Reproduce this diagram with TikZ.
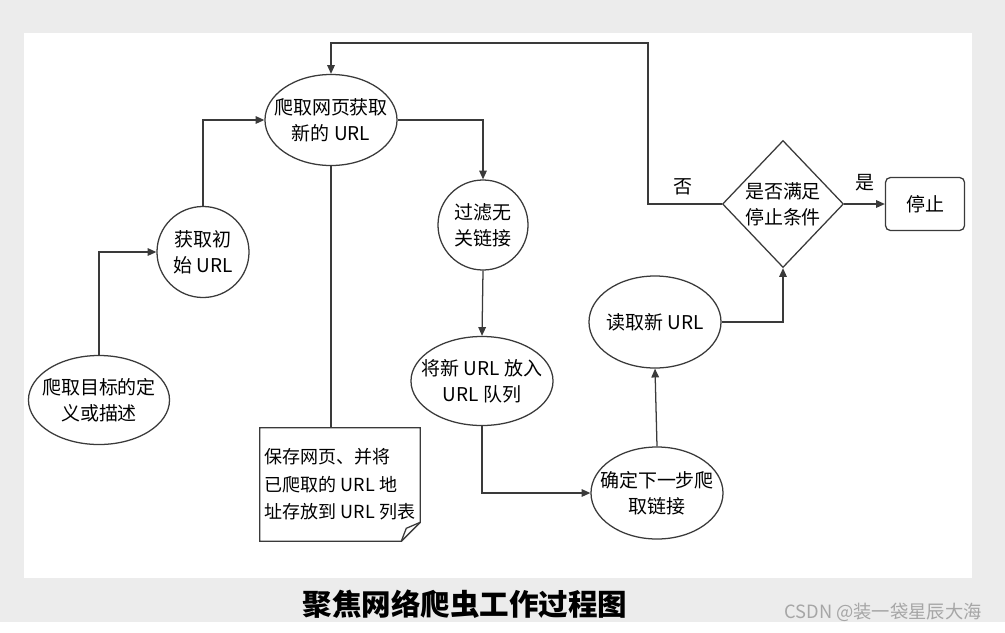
\documentclass[tikz,border=0pt]{standalone}
\usepackage{fontspec}
\setmainfont{Noto Sans CJK SC}
\usetikzlibrary{arrows.meta,calc,positioning,shapes.geometric}
\definecolor{linegray}{HTML}{3A3A3A}
\definecolor{panelgray}{HTML}{ECECEC}
\newcommand{\cntext}{\fontsize{13.5pt}{18.5pt}\selectfont}
\tikzset{
  bubble/.style={draw=linegray, ellipse, line width=0.9pt, inner sep=0pt, fill=white},
  choice/.style={draw=linegray, diamond, line width=0.9pt, inner sep=0pt, minimum width=3.025cm, minimum height=3.175cm},
  endbox/.style={draw=linegray, rounded corners=3.5pt, line width=0.9pt, minimum width=1.975cm, minimum height=1.325cm, font=\cntext},
  memo/.style={minimum width=4cm, minimum height=2.825cm, inner sep=0pt, align=left, font=\fontsize{12.8pt}{19.5pt}\selectfont},
  flow/.style={-{Triangle[length=2.2mm,width=1.9mm]}, line width=0.9pt, draw=linegray},
  link/.style={line width=0.9pt, draw=linegray},
  every label/.style={align=center, font=\cntext, inner sep=0pt}
}
\begin{document}
\begin{tikzpicture}[x=0.025cm, y=-0.025cm]
  \useasboundingbox (0,0) rectangle (1005,632);
  \fill[panelgray] (0,0) rectangle (1005,622);
  \fill[white] (24,33) rectangle (972,578);

  % process steps
  \node[bubble, minimum width=3.3cm, minimum height=2.275cm, label={center:爬取网页获取\\新的 URL}] (crawl) at (331,120) {};
  \node[bubble, minimum width=2.3cm, minimum height=2.275cm, label={center:获取初\\始 URL}] (init) at (203,252) {};
  \node[bubble, minimum width=3.525cm, minimum height=2.225cm, label={center:爬取目标的定\\义或描述}] (target) at (99,400) {};
  \node[bubble, minimum width=2.25cm, minimum height=2.25cm, label={center:过滤无\\关链接}] (filter) at (483,225) {};
  \node[bubble, minimum width=3.55cm, minimum height=2.225cm, label={center:将新 URL 放入\\URL 队列}] (queue) at (482,381) {};
  \node[bubble, minimum width=3.3cm, minimum height=2.3cm, label={center:确定下一步爬\\取链接}] (decide) at (657,493) {};
  \node[bubble, minimum width=3.3cm, minimum height=2.3cm, label={center:读取新 URL}] (read) at (655,322) {};
  \node[choice, label={center:是否满足\\停止条件}] (cond) at (783,204) {};
  \node[endbox] (stop) at (925,204) {停止};

  % note with folded corner
  \node[memo] (save) at (340,484.5) {保存网页、并将\\已爬取的 URL 地\\址存放到 URL 列表};
  \draw[link] (save.north west) -- (save.north east) -- ($(save.south east)+(0,-19)$)
    -- ($(save.south east)+(-19,0)$) -- (save.south west) -- cycle;
  \draw[link] ($(save.south east)+(-19,0)$) .. controls ($(save.south east)+(-16,-8)$) .. ($(save.south east)+(-14,-13)$)
    -- ($(save.south east)+(0,-19)$);

  \node[font=\cntext] (no) at (683,187) {否};
  \node[font=\cntext] (yes) at (865,183) {是};

  % connectors
  \draw[flow] (target.north) |- (init.west);
  \draw[flow] (init.north) |- (crawl.west);
  \draw[flow] (crawl.east) -| (filter.north);
  \draw[link] (crawl.south) -- (crawl.south |- save.north);
  \draw[flow] (filter.south) -- (queue.north);
  \draw[flow] (queue.south) |- (decide.west);
  \draw[flow] (decide.north) -- (read.south);
  \draw[flow] (read.east) -| (cond.south);
  \draw[flow] (cond.east) -- (stop.west);
  \coordinate (back) at (648,43);
  \draw[flow] (cond.west) -| (back) -| (crawl.north);

  \node[font=\fontsize{21pt}{24pt}\selectfont\bfseries] (title) at (465,604) {聚焦网络爬虫工作过程图};
  \node[text=gray!70, font=\fontsize{13pt}{15pt}\selectfont] (mark) at (883,612) {CSDN @装一袋星辰大海};
\end{tikzpicture}
\end{document}
